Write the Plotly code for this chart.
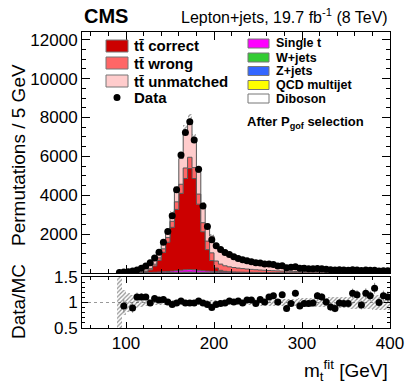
import numpy as np
import plotly.graph_objects as go

# 5 GeV bins from 90 to 400 GeV
bin_edges = list(range(90, 405, 5))

data = [30, 50, 70, 100, 160, 240, 360, 530, 770, 1070,
        1580, 2130, 2940, 4280, 6070, 7230, 7780, 6840, 5340, 3450,
        2390, 1710, 1400, 1210, 1060, 950, 840, 750, 680, 630,
        585, 530, 520, 465, 465, 435, 365, 375, 275, 290,
        325, 242, 240, 225, 213, 232, 216, 187, 162, 150,
        161, 154, 147, 169, 158, 124, 148, 136, 147, 102,
        120, 113]

tt_correct = [0, 1, 2, 3, 5, 12, 40, 130, 320, 600,
              1000, 1500, 2250, 3150, 3950, 4700, 5200, 4700, 3400, 2000,
              1100, 550, 180, 70, 25, 10, 5, 3, 2, 1,
              1, 0, 0, 0, 0, 0, 0, 0, 0, 0,
              0, 0, 0, 0, 0, 0, 0, 0, 0, 0,
              0, 0, 0, 0, 0, 0, 0, 0, 0, 0,
              0, 0]

tt_wrong = [2, 4, 6, 10, 15, 25, 40, 65, 95, 130,
            180, 240, 310, 390, 470, 540, 580, 560, 520, 470,
            440, 400, 360, 320, 285, 255, 228, 205, 185, 168,
            152, 138, 125, 114, 104, 95, 87, 80, 74, 68,
            63, 58, 54, 50, 47, 44, 41, 38, 36, 34,
            32, 30, 28, 27, 25, 24, 23, 22, 21, 20,
            19, 18]

tt_unmatched = [20, 45, 66, 90, 120, 169, 230, 297, 267, 241,
                247, 289, 400, 657, 1323, 1895, 1895, 1479, 1120, 901,
                849, 863, 844, 778, 700, 607, 549, 480, 455, 396,
                375, 373, 338, 321, 294, 269, 253, 227, 219, 210,
                197, 188, 177, 167, 155, 150, 143, 137, 132, 126,
                123, 119, 114, 109, 105, 99, 95, 92, 88, 84,
                81, 78]

single_t = [2, 3, 4, 5, 7, 10, 14, 20, 27, 35,
            45, 58, 72, 88, 105, 118, 125, 115, 100, 85,
            72, 62, 54, 48, 43, 38, 34, 30, 27, 25,
            23, 21, 19, 18, 16, 15, 14, 13, 12, 12,
            11, 10, 10, 9, 9, 8, 8, 7, 7, 7,
            6, 6, 6, 5, 5, 5, 5, 4, 4, 4,
            4, 4]

w_jets = [1, 1, 1, 1, 2, 3, 4, 5, 7, 9,
          11, 14, 18, 22, 26, 29, 31, 29, 25, 21,
          18, 16, 14, 12, 11, 10, 9, 8, 7, 6,
          6, 5, 5, 5, 4, 4, 4, 3, 3, 3,
          3, 3, 3, 2, 2, 2, 2, 2, 2, 2,
          2, 2, 2, 1, 1, 1, 1, 1, 1, 1,
          1, 1]

z_jets = [0, 0, 0, 0, 0, 1, 1, 1, 1, 2,
          2, 3, 3, 4, 5, 6, 6, 6, 5, 4,
          4, 3, 3, 3, 2, 2, 2, 2, 2, 1,
          1, 1, 1, 1, 1, 1, 1, 1, 1, 1,
          1, 1, 1, 1, 0, 0, 0, 0, 0, 0,
          0, 0, 0, 0, 0, 0, 0, 0, 0, 0,
          0, 0]

qcd = [1, 1, 1, 1, 1, 1, 2, 2, 3, 3,
       4, 5, 6, 7, 8, 9, 10, 9, 8, 7,
       6, 5, 5, 4, 4, 3, 3, 3, 3, 2,
       2, 2, 2, 2, 2, 2, 2, 1, 1, 1,
       1, 1, 1, 1, 1, 1, 1, 1, 1, 1,
       1, 1, 1, 1, 1, 1, 1, 1, 1, 1,
       1, 1]

diboson = [0, 0, 0, 0, 0, 0, 0, 0, 1, 1,
           1, 1, 1, 1, 2, 2, 2, 2, 2, 1,
           1, 1, 1, 1, 1, 1, 1, 1, 1, 1,
           1, 1, 1, 1, 1, 1, 1, 0, 0, 0,
           0, 0, 0, 0, 0, 0, 0, 0, 0, 0,
           0, 0, 0, 0, 0, 0, 0, 0, 0, 0,
           0, 0]

# data/MC
ratio = [None, 0.93, None, 0.89, 1.11, 1.11, 1.11, 0.99, 1.08, 1.05,
         1.06, 1.01, 0.96, 0.99, 1.03, 0.99, 0.99, 0.99, 1.03, 0.99,
         0.96, 0.90, 0.96, 0.98, 0.99, 1.03, 1.01, 1.03, 0.99, 1.05,
         1.05, 0.98, 1.06, 1.01, 1.11, 1.13, 1.01, 1.15, 0.88, 0.98,
         1.18, 0.93, 0.98, 0.98, 0.99, 1.13, 1.11, 1.01, 0.91, 0.88,
         0.99, 0.98, 0.98, 1.18, 1.15, 0.95, 1.18, 1.13, 1.28, 1.00,
         1.13, 1.11]

# relative MC uncertainty (hatched band)
mc_unc = [0.6, 0.25, 0.18, 0.14, 0.10, 0.08, 0.07, 0.06, 0.05, 0.05,
          0.04, 0.04, 0.04, 0.04, 0.04, 0.04, 0.04, 0.04, 0.04, 0.04,
          0.04, 0.05, 0.05, 0.05, 0.05, 0.05, 0.05, 0.05, 0.05, 0.05,
          0.05, 0.06, 0.06, 0.06, 0.06, 0.06, 0.06, 0.07, 0.07, 0.07,
          0.07, 0.08, 0.08, 0.08, 0.08, 0.09, 0.09, 0.09, 0.10, 0.10,
          0.10, 0.11, 0.11, 0.12, 0.12, 0.12, 0.13, 0.13, 0.14, 0.14,
          0.15, 0.15]

y_ticks = [2000, 4000, 6000, 8000, 10000, 12000]

centers = np.array(bin_edges[:-1]) + 2.5
data_arr = np.array(data, dtype=float)
unc = np.array(mc_unc)
mc_total = (np.array(tt_correct) + np.array(tt_wrong) + np.array(tt_unmatched)
            + np.array(single_t) + np.array(w_jets) + np.array(z_jets)
            + np.array(qcd) + np.array(diboson))

FONT = "Liberation Sans"
L, R, T, B = 82, 17, 32, 63
W, H = 407, 391
PW, PH = W - L - R, H - T - B


def px(x):
    return (x - L) / PW


def py(y):
    return (H - B - y) / PH


def step(v):
    return list(v) + [v[-1]]


fig = go.Figure()

# stacked MC, bottom to top
stack = [
    ("Diboson", diboson, "#ffffff"),
    ("QCD multijet", qcd, "#ffff00"),
    ("Z+jets", z_jets, "#3366ff"),
    ("W+jets", w_jets, "#33cc33"),
    ("Single t", single_t, "#ff00ff"),
    ("tt\u0304 correct", tt_correct, "#cc0000"),
    ("tt\u0304 wrong", tt_wrong, "#ff6666"),
    ("tt\u0304 unmatched", tt_unmatched, "#ffcccc"),
]
for name, vals, col in stack:
    fig.add_trace(go.Scatter(
        x=bin_edges, y=step(vals), mode="lines", name=name,
        line=dict(shape="hv", width=1, color="#555555"),
        fillcolor=col, stackgroup="mc", showlegend=False,
        xaxis="x", yaxis="y"))

hatch = dict(color="rgba(0,0,0,0)", line=dict(width=0),
             pattern=dict(shape="/", fgcolor="#222222", size=3, solidity=0.4))

# MC uncertainty on top of the stack
fig.add_trace(go.Bar(
    x=centers, y=2 * unc * mc_total, base=mc_total * (1 - unc), width=5,
    marker=hatch, showlegend=False, xaxis="x", yaxis="y"))

fig.add_trace(go.Scatter(
    x=centers, y=data, mode="markers", name="Data",
    marker=dict(color="black", size=7),
    error_y=dict(type="data", array=np.sqrt(data_arr), color="black", thickness=1, width=0),
    showlegend=False, xaxis="x", yaxis="y"))

# ratio panel
fig.add_shape(type="line", xref="x2", yref="y2", x0=50, x1=400, y0=1, y1=1,
              line=dict(color="#999999", width=1, dash="dot"), layer="below")

fig.add_trace(go.Bar(
    x=centers, y=2 * unc, base=1 - unc, width=5,
    marker=hatch, showlegend=False, xaxis="x2", yaxis="y2"))

fig.add_trace(go.Scatter(
    x=centers, y=ratio, mode="markers",
    marker=dict(color="black", size=7),
    error_y=dict(type="data", array=np.sqrt(data_arr) / mc_total, color="#888888", thickness=1, width=0),
    showlegend=False, xaxis="x2", yaxis="y2"))

axis_common = dict(showline=True, linecolor="black", linewidth=1, mirror="allticks",
                   ticks="inside", tickcolor="black", showgrid=False, zeroline=False,
                   automargin=False,
                   tickfont=dict(family=FONT, size=17, color="black"))

main_bottom = 1 - (273 - T) / PH

fig.update_layout(
    width=W, height=H,
    margin=dict(l=L, r=R, t=T, b=B),
    plot_bgcolor="white", paper_bgcolor="white",
    barmode="overlay", bargap=0,
    showlegend=False,
    font=dict(family=FONT, color="black"),
    xaxis=dict(domain=[0, 1], range=[50, 400], anchor="y", dtick=100, tick0=0,
               showticklabels=False, ticklen=8,
               minor=dict(ticks="inside", ticklen=4, dtick=20, tick0=0, tickcolor="black"),
               **axis_common),
    yaxis=dict(domain=[main_bottom, 1], range=[0, 12400], tickmode="array",
               tickvals=y_ticks, ticktext=[str(v) for v in y_ticks], ticklen=8,
               minor=dict(ticks="inside", ticklen=4, dtick=500, tick0=0, tickcolor="black"),
               **axis_common),
    xaxis2=dict(domain=[0, 1], range=[50, 400], anchor="y2", matches="x", dtick=100, tick0=0,
                ticklen=6,
                minor=dict(ticks="inside", ticklen=3, dtick=20, tick0=0, tickcolor="black"),
                **axis_common),
    yaxis2=dict(domain=[0, py(277)], range=[0.5, 1.5], dtick=0.5, tick0=0, ticklen=6,
                minor=dict(ticks="inside", ticklen=3, dtick=0.1, tick0=0, tickcolor="black"),
                **axis_common),
)

ann = [
    dict(text="<b>CMS</b>", x=0, y=py(15.5), xanchor="left", yanchor="middle", size=20),
    dict(text="Lepton+jets, 19.7 fb<sup>-1</sup> (8 TeV)", x=1, y=py(16), xanchor="right",
         yanchor="middle", size=16),
    dict(text="Permutations / 5 GeV", x=px(18), y=py(155), xanchor="center", yanchor="middle",
         size=19, angle=-90),
    dict(text="Data/MC", x=px(18), y=py(302), xanchor="center", yanchor="middle",
         size=19, angle=-90),
    dict(text="m<sub>t</sub><sup>fit</sup> [GeV]", x=1, y=py(370), xanchor="right",
         yanchor="middle", size=19),
    dict(text="<b>After P<sub>gof</sub> selection</b>", x=px(245), y=py(122), xanchor="left",
         yanchor="middle", size=13),
]
for a in ann:
    fig.add_annotation(text=a["text"], xref="paper", yref="paper", x=a["x"], y=a["y"],
                       xanchor=a["xanchor"], yanchor=a["yanchor"], showarrow=False,
                       textangle=a.get("angle", 0),
                       font=dict(family=FONT, size=a["size"], color="black"))

# hand-placed two-column legend
legend_left = [("tt\u0304 correct", "#cc0000", 46), ("tt\u0304 wrong", "#ff6666", 63),
               ("tt\u0304 unmatched", "#ffcccc", 81)]
for name, col, yc in legend_left:
    fig.add_shape(type="rect", xref="paper", yref="paper", x0=px(106), x1=px(128),
                  y0=py(yc - 6), y1=py(yc + 6), fillcolor=col, line=dict(color="#777777", width=1))
    fig.add_annotation(text="<b>" + name + "</b>", xref="paper", yref="paper", x=px(132), y=py(yc),
                       xanchor="left", yanchor="middle", showarrow=False,
                       font=dict(family=FONT, size=15, color="black"))
fig.add_shape(type="circle", xref="paper", yref="paper", x0=px(113.5), x1=px(120.5),
              y0=py(101), y1=py(94), fillcolor="black", line=dict(color="black", width=0))
fig.add_annotation(text="<b>Data</b>", xref="paper", yref="paper", x=px(132), y=py(97),
                   xanchor="left", yanchor="middle", showarrow=False,
                   font=dict(family=FONT, size=15, color="black"))

legend_right = [("Single t", "#ff00ff", 43.5), ("W+jets", "#33cc33", 57.5), ("Z+jets", "#3366ff", 71),
                ("QCD multijet", "#ffff00", 85), ("Diboson", "#ffffff", 98.5)]
for name, col, yc in legend_right:
    fig.add_shape(type="rect", xref="paper", yref="paper", x0=px(248), x1=px(269),
                  y0=py(yc - 4.5), y1=py(yc + 4.5), fillcolor=col, line=dict(color="#777777", width=1))
    fig.add_annotation(text="<b>" + name + "</b>", xref="paper", yref="paper", x=px(274), y=py(yc),
                       xanchor="left", yanchor="middle", showarrow=False,
                       font=dict(family=FONT, size=12.5, color="black"))

# the page's default body margin would shift the figure
fig.write_html("out.html", config={"displayModeBar": False},
               post_script="document.body.style.margin='0px';")
